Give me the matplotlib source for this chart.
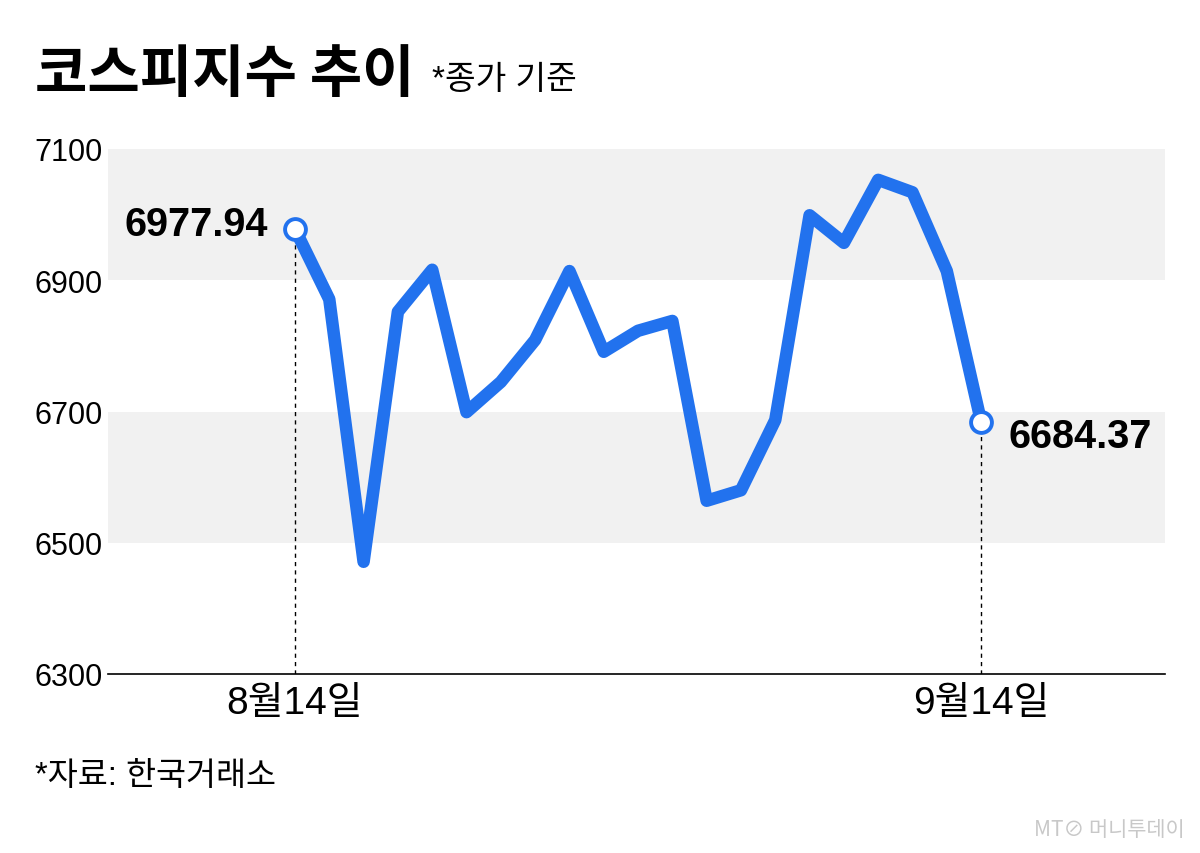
import matplotlib
matplotlib.use("Agg")
import matplotlib.pyplot as plt

plt.rcParams['font.family'] = ['Liberation Sans', 'Noto Sans CJK KR', 'DejaVu Sans']

values = [6977.94, 6871, 6471, 6852, 6916, 6699, 6745, 6809, 6914, 6791,
          6823, 6838, 6564, 6580, 6687, 6999, 6957, 7053, 7034, 6914, 6684.37]
yticks = [6300, 6500, 6700, 6900, 7100]
bands = [(6500, 6700), (6900, 7100)]
xlabels = {0: "8월14일", 20: "9월14일"}
title = "코스피지수 추이"
subtitle = "*종가 기준"
source = "*자료: 한국거래소"
blue = "#2272EE"

fig = plt.figure(figsize=(12, 8.54), dpi=100)
ax = fig.add_axes([108/1200, 1-675/854, 1057/1200, 525/854])
ax.set_xlim(-5.45, 25.36)
ax.set_ylim(6300, 7100)

for lo, hi in bands:
    ax.axhspan(lo, hi, color="#F1F1F1", lw=0, zorder=0)

x = list(range(len(values)))
ax.plot(x, values, color=blue, lw=9.0, solid_joinstyle='round', solid_capstyle='round', zorder=3)

last = len(values) - 1
for i in (0, last):
    ax.plot([i, i], [6300, values[i]], color="black", lw=1, ls=(0, (3, 3)), zorder=2)
    ax.plot(i, values[i], 'o', ms=15, mfc='white', mec=blue, mew=2.8, zorder=4)

ax.text(-0.8, values[0] + 8, f"{values[0]:.2f}", ha='right', va='center',
        fontsize=28.5, fontweight='bold', color='black')
ax.text(last + 0.8, values[-1] - 22, f"{values[-1]:.2f}", ha='left', va='center',
        fontsize=28.5, fontweight='bold', color='black')

for s in ['top', 'right', 'left']:
    ax.spines[s].set_visible(False)
ax.spines['bottom'].set_linewidth(1.2)
ax.spines['bottom'].set_color('black')

ax.set_yticks(yticks)
ax.set_yticklabels([str(t) for t in yticks], fontsize=22)
ax.tick_params(axis='y', length=0, pad=4)
ax.set_xticks(list(xlabels.keys()))
ax.set_xticklabels(list(xlabels.values()), fontsize=28)
ax.tick_params(axis='x', length=0, pad=8)

fig.text(35/1200, 1-75/854, title, fontsize=41, fontweight='bold', va='center', ha='left',
         family=['Noto Sans CJK KR'])
fig.text(432/1200, 1-80/854, subtitle, fontsize=24, va='center', ha='left')
fig.text(35/1200, 1-777/854, source, fontsize=23.5, va='center', ha='left')
fig.text(1185/1200, 1-830/854, "MT⊘ 머니투데이", fontsize=15, va='center', ha='right',
         color='#C8C8C8', family=['Noto Sans CJK KR', 'DejaVu Sans'])

fig.savefig("out.png", dpi=100)
